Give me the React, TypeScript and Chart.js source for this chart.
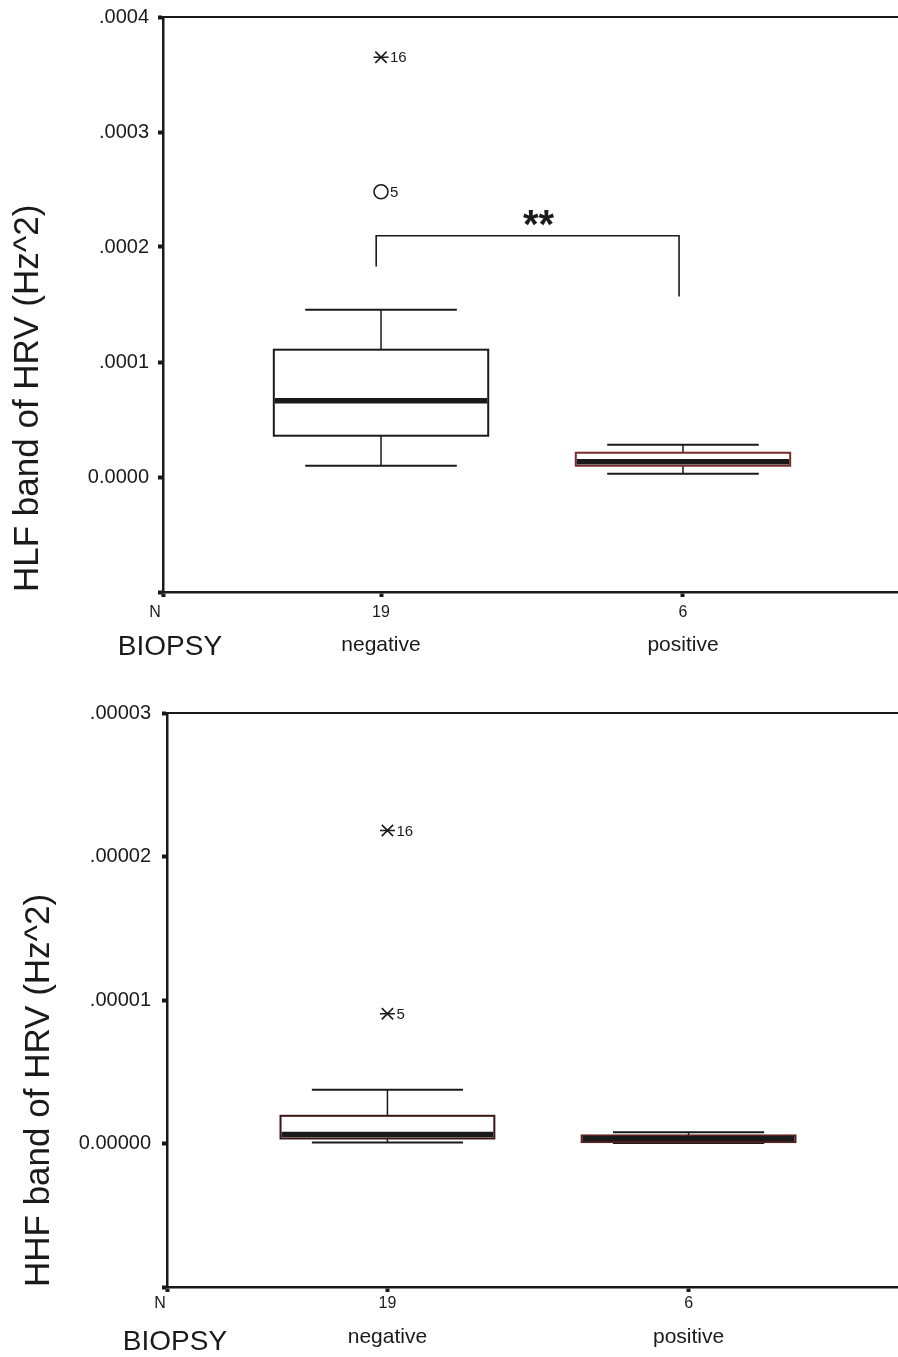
import React, { useEffect, useRef } from 'react';
import { Chart, registerables } from 'chart.js';

Chart.register(...registerables);

const FONT = '"Liberation Sans", Arial, Helvetica, sans-serif';

// ---------- shared categories ----------
const categories = ['negative', 'positive'];
const groupCounts = ['19', '6'];
const countRowLabel = 'N';
const xAxisName = 'BIOPSY';

// ---------- HLF panel (top) ----------
const hlfTitle = 'HLF band of HRV (Hz^2)';
const hlfWhiskerLow = [0.098e-4, 0.029e-4];
const hlfQ1 = [0.359e-4, 0.098e-4];
const hlfMedian = [0.663e-4, 0.133e-4];
const hlfQ3 = [1.107e-4, 0.211e-4];
const hlfWhiskerHigh = [1.455e-4, 0.281e-4];
const hlfOutlierGroup = [0, 0];
const hlfOutlierValues = [3.65e-4, 2.48e-4];
const hlfOutlierIds = ['16', '5'];
const hlfOutlierKinds = ['extreme', 'outlier'];
const hlfTickValues = [-0.0001, 0, 0.0001, 0.0002, 0.0003, 0.0004];
const hlfTickLabels = ['', '0.0000', '.0001', '.0002', '.0003', '.0004'];
const hlfBracketValues = [1.831e-4, 2.098e-4, 1.57e-4]; // left leg end, bar, right leg end
const hlfBracketGroups = [0.984, 1.987];
const hlfBracketLabel = '**';

// ---------- HHF panel (bottom) ----------
const hhfTitle = 'HHF band of HRV (Hz^2)';
const hhfWhiskerLow = [0.007e-5, 0.003e-5];
const hhfQ1 = [0.035e-5, 0.01e-5];
const hhfMedian = [0.063e-5, 0.033e-5];
const hhfQ3 = [0.193e-5, 0.056e-5];
const hhfWhiskerHigh = [0.374e-5, 0.079e-5];
const hhfOutlierGroup = [0, 0];
const hhfOutlierValues = [2.181e-5, 0.904e-5];
const hhfOutlierIds = ['16', '5'];
const hhfOutlierKinds = ['extreme', 'extreme'];
const hhfTickValues = [-0.00001, 0, 0.00001, 0.00002, 0.00003];
const hhfTickLabels = ['', '0.00000', '.00001', '.00002', '.00003'];

const BOX_HALF = 0.355;
const CAP_HALF = 0.251;
const INK = '#1a1a1a';

type PanelCfg = any;

const panels: PanelCfg[] = [
  {
    key: 'hlf', top: 0, w: 910, h: 680, L: 163, R: 901.7, T: 17, B: 592,
    xMin: 0.278, xMax: 2.72, yMin: -0.0001, yMax: 0.0004,
    tickValues: hlfTickValues, tickLabels: hlfTickLabels, tickPad: 9,
    title: hlfTitle, titlePad: 7,
    low: hlfWhiskerLow, q1: hlfQ1, med: hlfMedian, q3: hlfQ3, high: hlfWhiskerHigh,
    oGroup: hlfOutlierGroup, oVal: hlfOutlierValues, oId: hlfOutlierIds, oKind: hlfOutlierKinds,
    boxColors: [INK, '#7a2c2c'],
    bracket: { values: hlfBracketValues, groups: hlfBracketGroups, label: hlfBracketLabel },
    row1: 25, row2: 59, nameY: 63, nameX: 7, nX: -8,
  },
  {
    key: 'hhf', top: 680, w: 915, h: 677, L: 167, R: 907.5, T: 33, B: 607,
    xMin: 0.268, xMax: 2.72, yMin: -0.00001, yMax: 0.00003,
    tickValues: hhfTickValues, tickLabels: hhfTickLabels, tickPad: 11,
    title: hhfTitle, titlePad: 18,
    low: hhfWhiskerLow, q1: hhfQ1, med: hhfMedian, q3: hhfQ3, high: hhfWhiskerHigh,
    oGroup: hhfOutlierGroup, oVal: hhfOutlierValues, oId: hhfOutlierIds, oKind: hhfOutlierKinds,
    boxColors: ['#3a1414', '#5a2020'],
    bracket: null,
    row1: 21, row2: 56, nameY: 63, nameX: 8, nX: -7,
  },
];

const boxPlugin = {
  id: 'boxes',
  beforeDatasetsDraw(chart: any) {
    const p = chart.options.plugins.boxes;
    const { ctx, chartArea } = chart;
    const xs = chart.scales.x;
    const ys = chart.scales.y;
    ctx.save();
    // top frame line
    ctx.strokeStyle = INK;
    ctx.lineWidth = 2;
    ctx.beginPath();
    ctx.moveTo(chartArea.left, chartArea.top);
    ctx.lineTo(chartArea.right + 20, chartArea.top);
    ctx.stroke();

    categories.forEach((_, i) => {
      const g = i + 1;
      const xc = xs.getPixelForValue(g);
      const bl = xs.getPixelForValue(g - BOX_HALF);
      const br = xs.getPixelForValue(g + BOX_HALF);
      const cl = xs.getPixelForValue(g - CAP_HALF);
      const cr = xs.getPixelForValue(g + CAP_HALF);
      const yLow = ys.getPixelForValue(p.low[i]);
      const yQ1 = ys.getPixelForValue(p.q1[i]);
      const yMed = ys.getPixelForValue(p.med[i]);
      const yQ3 = ys.getPixelForValue(p.q3[i]);
      const yHigh = ys.getPixelForValue(p.high[i]);
      ctx.strokeStyle = INK;
      ctx.lineWidth = 1.5;
      ctx.beginPath();
      ctx.moveTo(xc, yQ3); ctx.lineTo(xc, yHigh);
      ctx.moveTo(xc, yQ1); ctx.lineTo(xc, yLow);
      ctx.stroke();
      ctx.lineWidth = 2;
      ctx.beginPath();
      ctx.moveTo(cl, yHigh); ctx.lineTo(cr, yHigh);
      ctx.moveTo(cl, yLow); ctx.lineTo(cr, yLow);
      ctx.stroke();
      ctx.fillStyle = '#ffffff';
      ctx.fillRect(bl, yQ3, br - bl, yQ1 - yQ3);
      ctx.strokeStyle = p.boxColors[i];
      ctx.lineWidth = 2;
      ctx.strokeRect(bl, yQ3, br - bl, yQ1 - yQ3);
      ctx.strokeStyle = INK;
      ctx.lineWidth = 5.5;
      ctx.beginPath();
      ctx.moveTo(bl + 1, yMed); ctx.lineTo(br - 1, yMed);
      ctx.stroke();
    });

    if (p.bracket) {
      const [vL, vTop, vR] = p.bracket.values;
      const xL = xs.getPixelForValue(p.bracket.groups[0]);
      const xR = xs.getPixelForValue(p.bracket.groups[1]);
      const yTop = ys.getPixelForValue(vTop);
      ctx.strokeStyle = INK;
      ctx.lineWidth = 1.6;
      ctx.beginPath();
      ctx.moveTo(xL, ys.getPixelForValue(vL));
      ctx.lineTo(xL, yTop);
      ctx.lineTo(xR, yTop);
      ctx.lineTo(xR, ys.getPixelForValue(vR));
      ctx.stroke();
      ctx.fillStyle = INK;
      ctx.font = `bold 40px ${FONT}`;
      ctx.textAlign = 'center';
      ctx.textBaseline = 'alphabetic';
      ctx.fillText(p.bracket.label, (xL + xR) / 2 + 11, yTop + 2);
    }
    ctx.restore();
  },
  afterDraw(chart: any) {
    const p = chart.options.plugins.boxes;
    const { ctx, chartArea } = chart;
    const xs = chart.scales.x;
    const ys = chart.scales.y;
    ctx.save();
    ctx.fillStyle = INK;
    // outlier case numbers
    ctx.font = `15px ${FONT}`;
    ctx.textAlign = 'left';
    ctx.textBaseline = 'middle';
    p.oVal.forEach((v: number, i: number) => {
      const x = xs.getPixelForValue(p.oGroup[i] + 1) + 9;
      const y = ys.getPixelForValue(v) + 1;
      ctx.fillText(p.oId[i], x, y);
    });
    // N row
    ctx.textAlign = 'center';
    ctx.textBaseline = 'alphabetic';
    ctx.font = `16px ${FONT}`;
    ctx.fillText(countRowLabel, chartArea.left + p.nX, chartArea.bottom + p.row1);
    groupCounts.forEach((c, i) => {
      ctx.fillText(c, xs.getPixelForValue(i + 1), chartArea.bottom + p.row1);
    });
    // category row
    ctx.font = `21px ${FONT}`;
    categories.forEach((c, i) => {
      ctx.fillText(c, xs.getPixelForValue(i + 1), chartArea.bottom + p.row2);
    });
    ctx.font = `28px ${FONT}`;
    ctx.fillText(xAxisName, chartArea.left + p.nameX, chartArea.bottom + p.nameY);
    ctx.restore();
  },
};

function Panel({ cfg }: { cfg: PanelCfg }) {
  const ref = useRef<HTMLCanvasElement | null>(null);
  useEffect(() => {
    if (!ref.current) return;
    const extreme = cfg.oVal
      .map((v: number, i: number) => ({ x: cfg.oGroup[i] + 1, y: v, k: cfg.oKind[i] }))
      .filter((d: any) => d.k === 'extreme');
    const outl = cfg.oVal
      .map((v: number, i: number) => ({ x: cfg.oGroup[i] + 1, y: v, k: cfg.oKind[i] }))
      .filter((d: any) => d.k === 'outlier');
    const grid = {
      display: true,
      drawOnChartArea: false,
      drawTicks: true,
      tickLength: 5,
      tickWidth: 4,
      tickColor: INK,
    };
    const border = { display: true, color: INK, width: 2.5 };
    const chart = new Chart(ref.current, {
      type: 'scatter',
      data: {
        datasets: [
          {
            data: extreme,
            pointStyle: 'crossRot',
            pointRadius: 8,
            pointHoverRadius: 8,
            borderColor: INK,
            backgroundColor: 'transparent',
            borderWidth: 1.6,
          },
          {
            data: extreme,
            pointStyle: 'line',
            pointRadius: 7.5,
            pointHoverRadius: 7.5,
            borderColor: INK,
            backgroundColor: 'transparent',
            borderWidth: 1.6,
          },
          {
            data: outl,
            pointStyle: 'circle',
            pointRadius: 7,
            pointHoverRadius: 7,
            borderColor: INK,
            backgroundColor: '#ffffff',
            borderWidth: 1.6,
          },
        ],
      },
      options: {
        animation: false,
        responsive: false,
        devicePixelRatio: 1,
        events: [],
        layout: { padding: { top: cfg.T, right: cfg.w - cfg.R, bottom: 0, left: 0 } },
        plugins: {
          legend: { display: false },
          tooltip: { enabled: false },
          boxes: cfg,
        } as any,
        scales: {
          x: {
            type: 'linear',
            position: 'bottom',
            min: cfg.xMin,
            max: cfg.xMax,
            afterBuildTicks: (s: any) => {
              s.ticks = [cfg.xMin, 1, 2].map((v) => ({ value: v }));
            },
            afterFit: (s: any) => {
              s.height = cfg.h - cfg.B;
              s.paddingLeft = 0;
              s.paddingRight = 0;
            },
            ticks: { display: false },
            grid,
            border,
          },
          y: {
            type: 'linear',
            position: 'left',
            min: cfg.yMin,
            max: cfg.yMax,
            afterBuildTicks: (s: any) => {
              s.ticks = cfg.tickValues.map((v: number) => ({ value: v }));
            },
            afterFit: (s: any) => {
              s.width = cfg.L;
              s.paddingTop = 0;
              s.paddingBottom = 0;
            },
            ticks: {
              autoSkip: false,
              padding: cfg.tickPad,
              color: INK,
              font: { family: FONT, size: 20 },
              callback: (v: any) => {
                const idx = cfg.tickValues.findIndex(
                  (t: number) => Math.abs(t - Number(v)) < Math.abs(cfg.yMax) * 1e-6
                );
                return idx >= 0 ? cfg.tickLabels[idx] : '';
              },
            },
            grid,
            border,
            title: {
              display: true,
              text: cfg.title,
              align: 'start',
              color: INK,
              font: { family: FONT, size: 35 },
              padding: { top: cfg.titlePad, bottom: 0 },
            },
          },
        },
      } as any,
      plugins: [boxPlugin as any],
    });
    return () => chart.destroy();
  }, [cfg]);
  return (
    <canvas
      ref={ref}
      width={cfg.w}
      height={cfg.h}
      style={{ position: 'absolute', left: 0, top: cfg.top, width: cfg.w, height: cfg.h, display: 'block' }}
    />
  );
}

export default function App() {
  return (
    <div
      style={{
        position: 'absolute',
        left: 0,
        top: 0,
        width: 898,
        height: 1357,
        overflow: 'hidden',
        background: '#ffffff',
      }}
    >
      {panels.map((cfg) => (
        <Panel key={cfg.key} cfg={cfg} />
      ))}
    </div>
  );
}
